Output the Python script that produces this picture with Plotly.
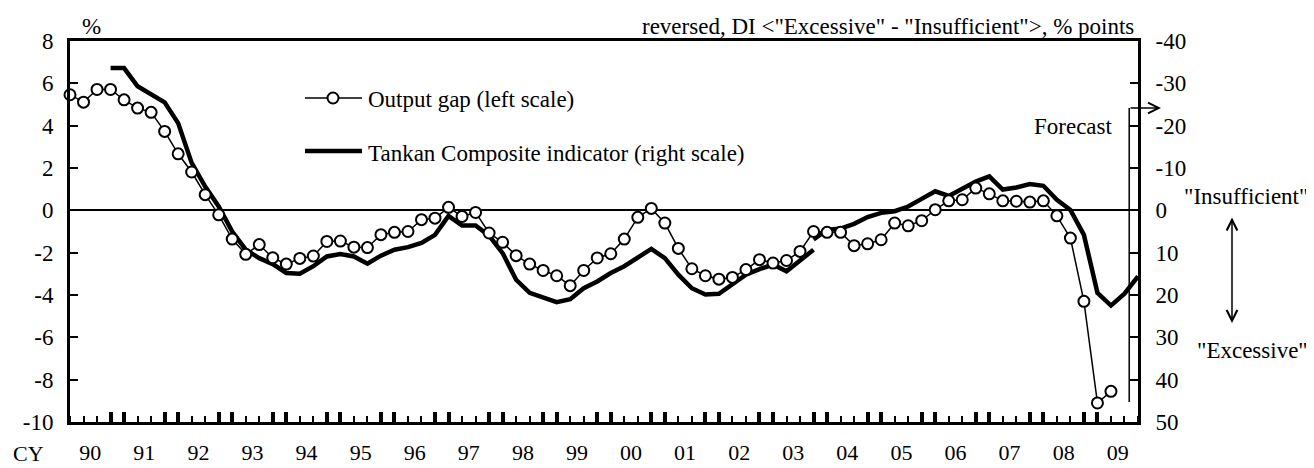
import plotly.graph_objects as go

# ---------------- data ----------------
year_labels = ["90", "91", "92", "93", "94", "95", "96", "97", "98", "99",
               "00", "01", "02", "03", "04", "05", "06", "07", "08", "09"]
quarters = [f"{y}Q{q}" for y in range(1990, 2010) for q in range(1, 5)]

# Output gap, % (left scale), 1990Q1 - 2009Q2
output_gap = [5.46, 5.11, 5.71, 5.71, 5.22, 4.83, 4.63, 3.73, 2.67, 1.81,
              0.74, -0.21, -1.36, -2.08, -1.62, -2.24, -2.54, -2.27, -2.16, -1.47,
              -1.45, -1.74, -1.76, -1.15, -1.04, -1.00, -0.44, -0.37, 0.14, -0.29,
              -0.10, -1.07, -1.51, -2.14, -2.54, -2.84, -3.09, -3.56, -2.84, -2.25,
              -2.05, -1.36, -0.33, 0.09, -0.60, -1.80, -2.76, -3.09, -3.25, -3.17,
              -2.80, -2.33, -2.49, -2.37, -1.94, -1.00, -1.04, -1.04, -1.67, -1.58,
              -1.39, -0.60, -0.73, -0.49, 0.03, 0.45, 0.50, 1.05, 0.78, 0.45,
              0.43, 0.39, 0.45, -0.26, -1.31, -4.30, -9.10, -8.55, None, None]

# Tankan composite indicator (right scale, reversed), old basis 1990Q4 - 2003Q4
tankan_old = [None, None, None, -33.6, -33.6, -29.3, -27.5, -25.5, -20.6, -11.2,
              -5.6, -0.9, 5.0, 9.3, 11.3, 12.7, 14.8, 15.0, 13.2, 10.9,
              10.3, 10.9, 12.6, 10.7, 9.3, 8.7, 7.7, 5.8, 1.3, 3.6,
              3.6, 6.0, 10.1, 16.4, 19.5, 20.5, 21.7, 21.0, 18.4, 16.8,
              14.8, 13.2, 11.3, 9.1, 11.3, 15.2, 18.4, 19.9, 19.7, 17.6,
              15.2, 13.9, 12.8, 14.4, 11.7, 9.3] + [None] * 24

# Tankan composite indicator, new basis 2003Q4 - 2009Q4 (incl. forecast)
tankan_new = [None] * 55 + [6.9, 4.6, 4.3, 3.2, 1.6, 0.6, 0.2, -0.9, -2.7, -4.5,
                            -3.4, -5.1, -6.8, -8.0, -4.9, -5.4, -6.2, -5.8, -2.5, -0.1,
                            5.8, 19.5, 22.5, 19.7, 15.6]

left_ticks = [-10, -8, -6, -4, -2, 0, 2, 4, 6, 8]
right_ticks = [-40, -30, -20, -10, 0, 10, 20, 30, 40, 50]

# ---------------- geometry helpers (page pixel coords) ----------------
OFF = 8                      # default body margin of the html page
W, H = 1314 - OFF, 468 - OFF
PL, PR, PT, PB = 70, 1138, 41, 422


def px(x):
    return (x - PL) / (PR - PL)


def py(y):
    return (PB - y) / (PB - PT)


FONT = "Liberation Serif"
FS = 23
xi = list(range(len(quarters)))
label_pos = [4 * i + 1.5 for i in range(len(year_labels))]
thick_pos = [k for k in xi if k % 4 in (0, 3)]
FORECAST_X = 78.35

fig = go.Figure()

fig.add_trace(go.Scatter(x=xi, y=tankan_old, yaxis="y", mode="lines",
                         line=dict(color="black", width=4.5),
                         name="Tankan Composite indicator (right scale)",
                         showlegend=False, connectgaps=False, hoverinfo="skip"))
fig.add_trace(go.Scatter(x=xi, y=tankan_new, yaxis="y", mode="lines",
                         line=dict(color="black", width=4.5), name="Tankan (new basis)",
                         showlegend=False, connectgaps=False, hoverinfo="skip"))
fig.add_trace(go.Scatter(x=xi, y=output_gap, yaxis="y2", mode="lines+markers",
                         line=dict(color="black", width=1.5),
                         marker=dict(symbol="circle", size=11, color="white",
                                     line=dict(color="black", width=2)),
                         name="Output gap (left scale)", showlegend=False,
                         cliponaxis=False, hoverinfo="skip"))
# dummy trace to activate the overlay x axis carrying the thick tick marks
fig.add_trace(go.Scatter(x=[0], y=[0], xaxis="x2", yaxis="y", mode="lines",
                         line=dict(width=0), showlegend=False, hoverinfo="skip"))

axis_font = dict(family=FONT, size=FS, color="black")

fig.update_layout(
    width=W, height=H,
    margin=dict(l=PL - OFF, r=W - (PR - OFF), t=PT - OFF, b=H - (PB - OFF), pad=0,
                autoexpand=False),
    paper_bgcolor="white", plot_bgcolor="white",
    font=dict(family=FONT, size=FS, color="black"),
    showlegend=False,
    xaxis=dict(range=[0, 79], showline=True, linewidth=3, linecolor="black", mirror=True,
               tickvals=label_pos, ticktext=year_labels, ticks="", showgrid=False,
               zeroline=False, tickfont=dict(family=FONT, size=22, color="black"),
               ticklabelstandoff=9, automargin=False,
               minor=dict(tickvals=xi, ticks="inside", ticklen=6, tickwidth=1.5,
                          tickcolor="black", showgrid=False)),
    xaxis2=dict(range=[0, 79], overlaying="x", anchor="y", side="bottom",
                tickvals=thick_pos, ticks="inside", ticklen=10, tickwidth=3.5,
                tickcolor="black", showticklabels=False, showline=False,
                showgrid=False, zeroline=False, automargin=False),
    yaxis=dict(side="right", range=[50, -40], tickvals=right_ticks,
               ticktext=[str(v) for v in right_ticks], ticks="inside", ticklen=8,
               tickwidth=2, tickcolor="black", showline=True, linewidth=3,
               linecolor="black", showgrid=False, zeroline=True,
               zerolinecolor="black", zerolinewidth=1.5, tickfont=axis_font,
               ticklabelstandoff=10, automargin=False),
    yaxis2=dict(side="left", overlaying="y", anchor="x", range=[-10, 8],
                tickvals=left_ticks, ticktext=[str(v) for v in left_ticks],
                ticks="inside", ticklen=8, tickwidth=2, tickcolor="black",
                showline=True, linewidth=3, linecolor="black", showgrid=False,
                zeroline=False, tickfont=axis_font, ticklabelstandoff=9,
                automargin=False),
)

shapes = [
    # legend samples
    dict(type="line", xref="paper", yref="paper", x0=px(305), x1=px(362),
         y0=py(98), y1=py(98), line=dict(color="black", width=1.5)),
    dict(type="circle", xref="paper", yref="paper", x0=px(327.5), x1=px(338.5),
         y0=py(103.5), y1=py(92.5), fillcolor="white", line=dict(color="black", width=2)),
    dict(type="line", xref="paper", yref="paper", x0=px(305), x1=px(362),
         y0=py(151), y1=py(151), line=dict(color="black", width=4.5)),
    # forecast marker
    dict(type="line", xref="x", yref="paper", x0=FORECAST_X, x1=FORECAST_X,
         y0=py(402), y1=py(108), line=dict(color="black", width=1.5)),
]
fig.update_layout(shapes=shapes)


def text(t, x, y, xanchor="center", size=FS):
    fig.add_annotation(text=t, x=px(x), y=py(y), xref="paper", yref="paper",
                       xanchor=xanchor, yanchor="middle", showarrow=False,
                       font=dict(family=FONT, size=size, color="black"))


text("%", 91, 27)
text('reversed, DI <"Excessive" - "Insufficient">, % points', 1136, 27, "right")
text("Output gap (left scale)", 366, 99, "left")
text("Tankan Composite indicator (right scale)", 366, 153, "left")
text("Forecast", 1115, 126, "right")
text('"Insufficient"', 1246, 196)
text('"Excessive"', 1252, 350)
text("CY", 28, 453, size=22)

# forecast arrow
fig.add_annotation(x=px(1161), y=py(108), xref="paper", yref="paper", text="",
                   showarrow=True, ax=-32, ay=0, arrowhead=5, arrowsize=1.4,
                   arrowwidth=1.5, arrowcolor="black")
# double arrow Insufficient / Excessive
fig.add_annotation(x=px(1232), y=py(323), xref="paper", yref="paper", text="",
                   showarrow=True, ax=0, ay=-107, arrowside="end+start",
                   arrowhead=5, startarrowhead=5, arrowsize=1.4, startarrowsize=1.4,
                   arrowwidth=1.5, arrowcolor="black")

fig.write_html("out.html")
